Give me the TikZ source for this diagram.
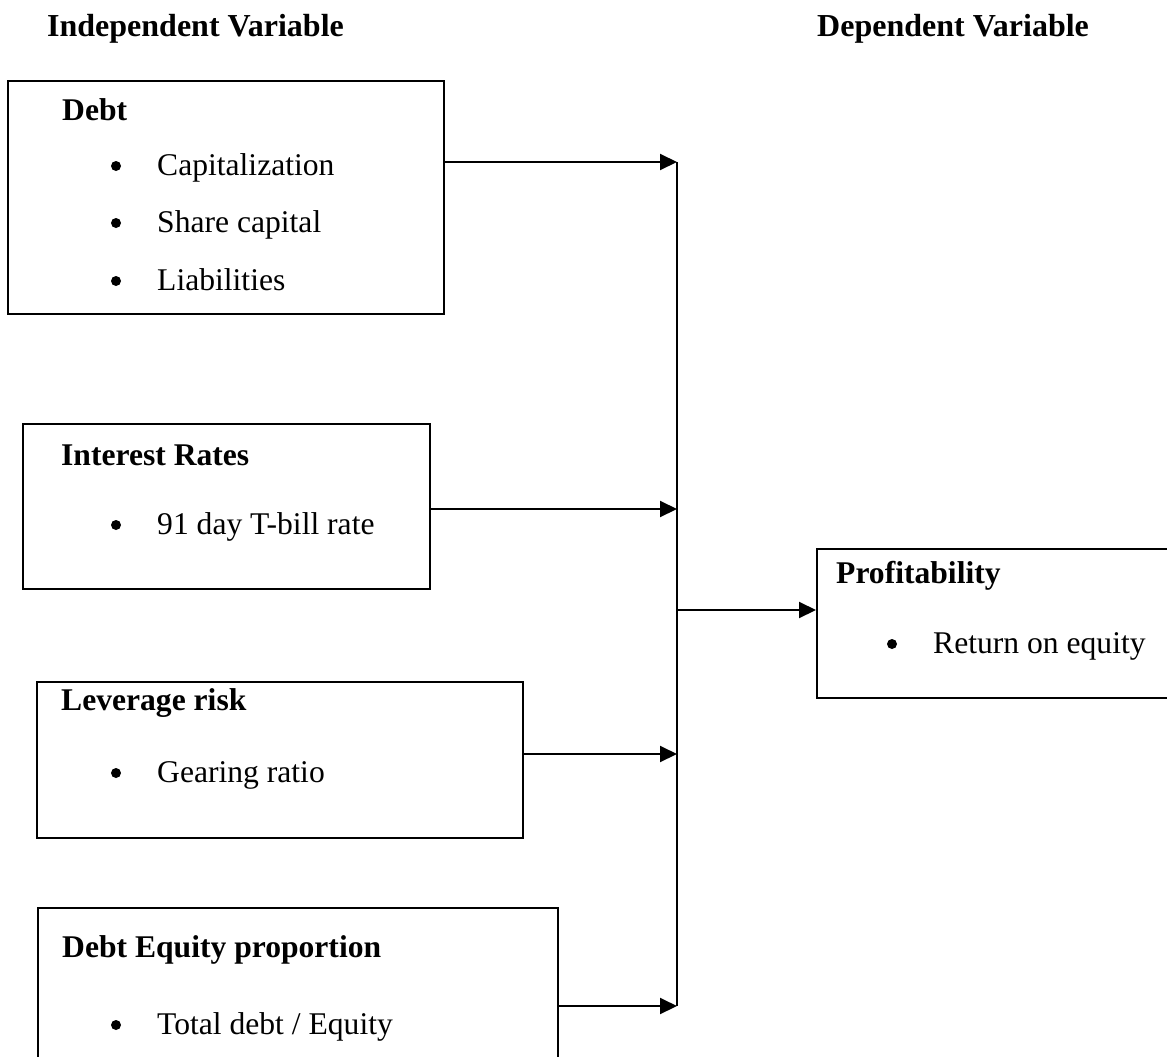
\documentclass[tikz,border=0pt]{standalone}
\usepackage{fontspec}
\setmainfont{Liberation Serif}
\usetikzlibrary{arrows.meta}
\begin{document}
\begin{tikzpicture}[x=1pt,y=-1pt,
  box/.style={draw, line width=1.6pt, inner sep=0pt, anchor=north west},
  txt/.style={anchor=base west, inner sep=0pt, font=\fontsize{31.6}{38}\selectfont},
  hd/.style={anchor=base west, inner sep=0pt, font=\fontsize{31.6}{38}\selectfont\bfseries},
  ttl/.style={anchor=base west, inner sep=0pt, font=\fontsize{32}{38}\selectfont\bfseries},
  dot/.style={circle, fill, inner sep=0pt, minimum size=10pt},
  conn/.style={line width=2pt, -{Triangle[length=17pt,width=16pt]}},
  trunk/.style={line width=1.9pt}]
\useasboundingbox (0,0) rectangle (1167,1057);
\clip (0,0) rectangle (1167,1057);

% titles
\node[ttl] (tind) at (47,37) {Independent Variable};
\node[ttl] (tdep) at (817,37) {Dependent Variable};

% boxes
\node[box, minimum width=436pt, minimum height=233pt] (debt) at (7,80) {};
\node[box, minimum width=407pt, minimum height=165pt] (rate) at (22,423) {};
\node[box, minimum width=486pt, minimum height=156pt] (lev) at (36,681) {};
\node[box, minimum width=520pt, minimum height=200pt] (deq) at (37,907) {};
\node[box, minimum width=400pt, minimum height=149pt] (prof) at (816,548) {};

% Debt box text
\node[hd] (debth) at (62,120) {Debt};
\node[dot] (b1) at (116,166) {};
\node[txt] (i1) at (157,175) {Capitalization};
\node[dot] (b2) at (116,223) {};
\node[txt] (i2) at (157,232) {Share capital};
\node[dot] (b3) at (116,281) {};
\node[txt] (i3) at (157,290) {Liabilities};

% Interest box text
\node[hd] (rateh) at (61,465) {Interest Rates};
\node[dot] (b4) at (116,525) {};
\node[txt] (i4) at (157,534) {91 day T-bill rate};

% Leverage box text
\node[hd] (levh) at (61,710) {Leverage risk};
\node[dot] (b5) at (116,773) {};
\node[txt] (i5) at (157,782) {Gearing ratio};

% Debt equity box text
\node[hd] (deqh) at (62,957) {Debt Equity proportion};
\node[dot] (b6) at (116,1025) {};
\node[txt] (i6) at (157,1034) {Total debt / Equity};

% Profitability box text
\node[hd] (profh) at (836,583) {Profitability};
\node[dot] (b7) at (892,644) {};
\node[txt] (i7) at (933,653) {Return on equity};

% junction coordinates
\coordinate (j1) at (677,162);
\coordinate (j2) at (677,509);
\coordinate (j3) at (677,754);
\coordinate (j4) at (677,1006);
\coordinate (jp) at (677,610);

% connectors
\draw[trunk] (j1) -- (j4);
\draw[conn] (debt.east |- j1) -- (j1);
\draw[conn] (rate.east |- j2) -- (j2);
\draw[conn] (lev.east |- j3) -- (j3);
\draw[conn] (deq.east |- j4) -- (j4);
\draw[conn] (jp) -- (prof.west |- jp);
\end{tikzpicture}
\end{document}
